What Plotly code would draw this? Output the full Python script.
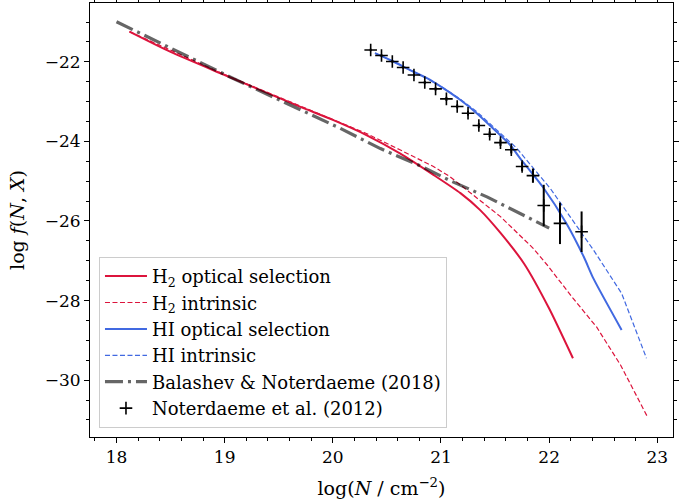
import plotly.graph_objects as go

# ---- data ----
h2_opt_x = [18.12, 18.5, 19.0, 19.69, 20.0, 20.31, 20.62, 20.93, 21.18, 21.36, 21.55, 21.77, 22.0, 22.22]
h2_opt_y = [-21.24, -21.75, -22.33, -23.12, -23.46, -23.84, -24.30, -24.84, -25.30, -25.72, -26.30, -27.08, -28.20, -29.45]

h2_int_x = [18.12, 19.0, 19.69, 20.0, 20.31, 20.62, 20.93, 21.08, 21.36, 21.55, 21.85, 21.98, 22.22, 22.44, 22.66, 22.91]
h2_int_y = [-21.24, -22.32, -23.10, -23.44, -23.80, -24.21, -24.63, -24.88, -25.47, -25.89, -26.68, -27.10, -27.94, -28.67, -29.62, -30.93]

hi_opt_x = [20.39, 20.56, 20.71, 20.87, 21.02, 21.18, 21.33, 21.48, 21.64, 21.73, 21.94, 22.16, 22.32, 22.41, 22.67]
hi_opt_y = [-21.78, -21.99, -22.20, -22.41, -22.66, -22.96, -23.29, -23.67, -24.09, -24.42, -25.14, -26.06, -26.90, -27.45, -28.74]

hi_int_x = [20.39, 20.56, 20.71, 20.87, 21.02, 21.18, 21.33, 21.70, 22.01, 22.32, 22.41, 22.67, 22.90]
hi_int_y = [-21.78, -21.99, -22.20, -22.41, -22.65, -22.94, -23.25, -24.17, -25.18, -26.39, -26.73, -27.82, -29.45]

bn18_x = [18.0, 19.05, 19.69, 20.06, 20.44, 20.83, 21.08, 21.43, 22.0]
bn18_y = [-20.99, -22.38, -23.19, -23.66, -24.18, -24.64, -24.98, -25.40, -26.18]

n12_x = [20.35, 20.45, 20.55, 20.65, 20.75, 20.85, 20.95, 21.05, 21.15, 21.25,
         21.35, 21.45, 21.55, 21.65, 21.75, 21.85, 21.95, 22.10, 22.30]
n12_y = [-21.70, -21.84, -21.99, -22.14, -22.33, -22.52, -22.68, -22.93, -23.12, -23.29,
         -23.60, -23.82, -24.03, -24.21, -24.63, -24.86, -25.61, -26.06, -26.27]
n12_err = [0.03, 0.03, 0.03, 0.03, 0.04, 0.04, 0.04, 0.05, 0.05, 0.06,
           0.06, 0.07, 0.08, 0.09, 0.11, 0.18, 0.52, 0.52, 0.51]

x_ticks = [18, 19, 20, 21, 22, 23]
y_ticks = [-22, -24, -26, -28, -30]

RED = "#DC143C"
BLUE = "#4169E1"
FONT = "DejaVu Serif"

fig = go.Figure()
fig.add_trace(go.Scatter(x=h2_opt_x, y=h2_opt_y, mode="lines",
                         line=dict(color=RED, width=2, shape="spline", smoothing=0.6),
                         name="H<sub>2</sub> optical selection"))
fig.add_trace(go.Scatter(x=h2_int_x, y=h2_int_y, mode="lines",
                         line=dict(color=RED, width=1.2, dash="5px,2.5px"), name="H<sub>2</sub> intrinsic"))
fig.add_trace(go.Scatter(x=hi_opt_x, y=hi_opt_y, mode="lines",
                         line=dict(color=BLUE, width=2, shape="spline", smoothing=0.6),
                         name="HI optical selection"))
fig.add_trace(go.Scatter(x=hi_int_x, y=hi_int_y, mode="lines",
                         line=dict(color=BLUE, width=1.2, dash="5px,2.5px"), name="HI intrinsic"))
fig.add_trace(go.Scatter(x=bn18_x, y=bn18_y, mode="lines",
                         line=dict(color="rgba(0,0,0,0.6)", width=3.2, dash="18px,5px,3px,5px"),
                         name="Balashev &amp; Noterdaeme (2018)"))
fig.add_trace(go.Scatter(x=n12_x, y=n12_y, mode="markers",
                         marker=dict(symbol="cross-thin", size=9, color="black",
                                     line=dict(color="black", width=1.6)),
                         error_y=dict(type="data", array=n12_err, visible=True,
                                      color="black", thickness=2, width=0),
                         name="Noterdaeme et al. (2012)"))

axis_common = dict(
    showline=True, linecolor="black", linewidth=1, mirror="ticks",
    ticks="outside", ticklen=5, tickwidth=1, tickcolor="black",
    showgrid=False, zeroline=False, automargin=False,
    tickfont=dict(family=FONT, size=17, color="black"),
)

fig.update_xaxes(range=[17.755, 23.145], tickvals=x_ticks,
                 minor=dict(dtick=0.2, tick0=18, ticks="outside", ticklen=3, tickcolor="black", showgrid=False),
                 title=dict(text="log(<i>N</i> / cm<sup>−2</sup>)", font=dict(family=FONT, size=19, color="black")),
                 **axis_common)
fig.update_yaxes(range=[-31.43, -20.52], tickvals=y_ticks,
                 minor=dict(dtick=0.5, tick0=-22, ticks="outside", ticklen=3, tickcolor="black", showgrid=False),
                 title=dict(text="log <i>f</i>(<i>N</i>, <i>X</i>)", font=dict(family=FONT, size=19, color="black")),
                 **axis_common)

fig.update_layout(
    width=698, height=500,
    margin=dict(l=90, r=25, t=3, b=63),
    plot_bgcolor="white", paper_bgcolor="white",
    font=dict(family=FONT, size=17, color="black"),
    legend=dict(x=0.0154, y=0.021, xanchor="left", yanchor="bottom",
                bgcolor="rgba(255,255,255,0.8)", bordercolor="#cccccc", borderwidth=1,
                font=dict(family=FONT, size=18, color="black"), itemwidth=42),
    showlegend=True,
)

fig.write_html("out.html", config={"displayModeBar": False},
               post_script="document.body.style.margin='0px';")
